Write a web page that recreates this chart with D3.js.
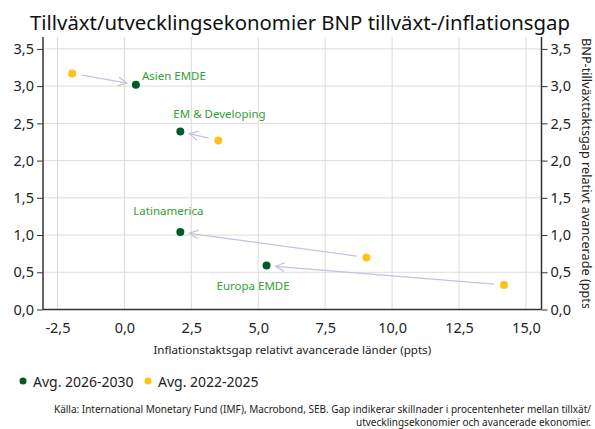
<!DOCTYPE html>
<html><head><meta charset="utf-8">
<script src="https://cdn.jsdelivr.net/npm/d3@7"></script>
<style>
body{margin:0;background:#fff;}
svg text{font-family:"Noto Sans",sans-serif;}
</style></head>
<body><svg id="c" width="595" height="429"></svg>
<script>
const regions = ["Asien EMDE","EM & Developing","Latinamerica","Europa EMDE"];
const inflNew = [0.43, 2.09, 2.09, 5.31];
const growthNew = [3.02, 2.39, 1.04, 0.59];
const inflOld = [-1.95, 3.51, 9.04, 14.18];
const growthOld = [3.17, 2.27, 0.70, 0.33];
const xTicks = [-2.5,0,2.5,5,7.5,10,12.5,15];
const yTicks = [0,0.5,1,1.5,2,2.5,3,3.5];
const seriesNames = ["Avg. 2026-2030","Avg. 2022-2025"];
const labelOffsets = [[6,-5],[-7,-14],[-47,-17],[-50,24]];

const svg = d3.select("#c");
const m={l:43,r:541.5,t:37,b:309.5};
const x = d3.scaleLinear().domain([-3.04,15.58]).range([m.l,m.r]);
const y = d3.scaleLinear().domain([0,3.66]).range([m.b,m.t]);
const fmt = v => d3.format(".1f")(v).replace(".",",").replace("\u2212","-");
const green="#005a2b", yellow="#fdc21a", lab="#35a035", grid="#dcdcdc", arrowC="#c9bfdc";

// grid
svg.append("g").selectAll("line").data(xTicks).join("line")
 .attr("x1",d=>x(d)).attr("x2",d=>x(d)).attr("y1",m.t).attr("y2",m.b)
 .attr("stroke",grid).attr("stroke-width",1);
svg.append("g").selectAll("line").data(yTicks).join("line")
 .attr("x1",m.l).attr("x2",m.r).attr("y1",d=>y(d)).attr("y2",d=>y(d))
 .attr("stroke",grid).attr("stroke-width",1);

// axes
const axL = svg.append("g").attr("transform",`translate(${m.l},0)`)
 .call(d3.axisLeft(y).tickValues(yTicks).tickFormat(fmt).tickSize(6).tickPadding(3));
const axR = svg.append("g").attr("transform",`translate(${m.r},0)`)
 .call(d3.axisRight(y).tickValues(yTicks).tickFormat(fmt).tickSize(6).tickPadding(3));
const axB = svg.append("g").attr("transform",`translate(0,${m.b})`)
 .call(d3.axisBottom(x).tickValues(xTicks).tickFormat(fmt).tickSize(0).tickPadding(13));
[axL,axR,axB].forEach(a=>{
  a.select(".domain").attr("stroke","#333").attr("stroke-width",1.5);
  a.selectAll(".tick line").attr("stroke","#333");
  a.selectAll("text").attr("font-size",14.5).attr("fill","#222").attr("font-family","Noto Sans");
});
axB.select(".domain").attr("d",`M${m.l},0H${m.r}`);
axL.select(".domain").attr("d",`M0,${m.t}V${m.b}`);
axR.select(".domain").attr("d",`M0,${m.t}V${m.b}`);

// arrows
const arrows = svg.append("g");
regions.forEach((r,i)=>{
  const x0=x(inflOld[i]), y0=y(growthOld[i]), x1=x(inflNew[i]), y1=y(growthNew[i]);
  const dx=x1-x0, dy=y1-y0, L=Math.hypot(dx,dy), ux=dx/L, uy=dy/L;
  const sx=x0+ux*10, sy=y0+uy*10, ex=x1-ux*9, ey=y1-uy*9;
  arrows.append("line").attr("x1",sx).attr("y1",sy).attr("x2",ex).attr("y2",ey)
    .attr("stroke",arrowC).attr("stroke-width",1.2);
  const a=Math.atan2(uy,ux), hl=10, ha=0.45;
  const p1=[ex-hl*Math.cos(a-ha), ey-hl*Math.sin(a-ha)];
  const p2=[ex-hl*Math.cos(a+ha), ey-hl*Math.sin(a+ha)];
  arrows.append("path").attr("d",`M${p1[0]},${p1[1]}L${ex},${ey}L${p2[0]},${p2[1]}`)
    .attr("fill","none").attr("stroke",arrowC).attr("stroke-width",1.2);
});

// points
svg.append("g").selectAll("circle").data(regions).join("circle")
 .attr("cx",(d,i)=>x(inflOld[i])).attr("cy",(d,i)=>y(growthOld[i])).attr("r",4).attr("fill",yellow);
svg.append("g").selectAll("circle").data(regions).join("circle")
 .attr("cx",(d,i)=>x(inflNew[i])).attr("cy",(d,i)=>y(growthNew[i])).attr("r",4).attr("fill",green);

// labels
svg.append("g").selectAll("text").data(regions).join("text")
 .attr("x",(d,i)=>x(inflNew[i])+labelOffsets[i][0])
 .attr("y",(d,i)=>y(growthNew[i])+labelOffsets[i][1])
 .attr("font-size",11.5).attr("fill",lab).text(d=>d);

// title
svg.append("text").attr("x",30).attr("y",30).attr("font-size",20).attr("fill","#111")
 .attr("textLength",540).attr("lengthAdjust","spacingAndGlyphs")
 .text("Tillväxt/utvecklingsekonomier BNP tillväxt-/inflationsgap");

// axis titles
svg.append("text").attr("x",(m.l+m.r)/2).attr("y",354).attr("text-anchor","middle")
 .attr("font-size",11.6).attr("fill","#222").text("Inflationstaktsgap relativt avancerade länder (ppts)");
svg.append("clipPath").attr("id","rc").append("rect").attr("x",565).attr("y",30).attr("width",30).attr("height",278);
svg.append("g").attr("clip-path","url(#rc)")
 .append("text")
 .attr("transform","translate(581.5,38) rotate(90)")
 .attr("font-size",12.7).attr("fill","#222").text("BNP-tillväxttaktsgap relativt avancerade (ppts)");

// legend
const leg = svg.append("g");
const lx=[23,148];
seriesNames.forEach((s,i)=>{
  leg.append("circle").attr("cx",lx[i]).attr("cy",381).attr("r",3.5).attr("fill",i?yellow:green);
  leg.append("text").attr("x",lx[i]+10).attr("y",386.5).attr("font-size",14).attr("fill","#222").text(s);
});

// footer
const foot=["Källa: International Monetary Fund (IMF), Macrobond, SEB. Gap indikerar skillnader i procentenheter mellan tillxät/",
 "utvecklingsekonomier och avancerade ekonomier."];
foot.forEach((t,i)=>svg.append("text").attr("x",591).attr("y",413+i*13).attr("text-anchor","end")
 .attr("font-size",10).attr("fill","#222").text(t));
</script></body></html>
